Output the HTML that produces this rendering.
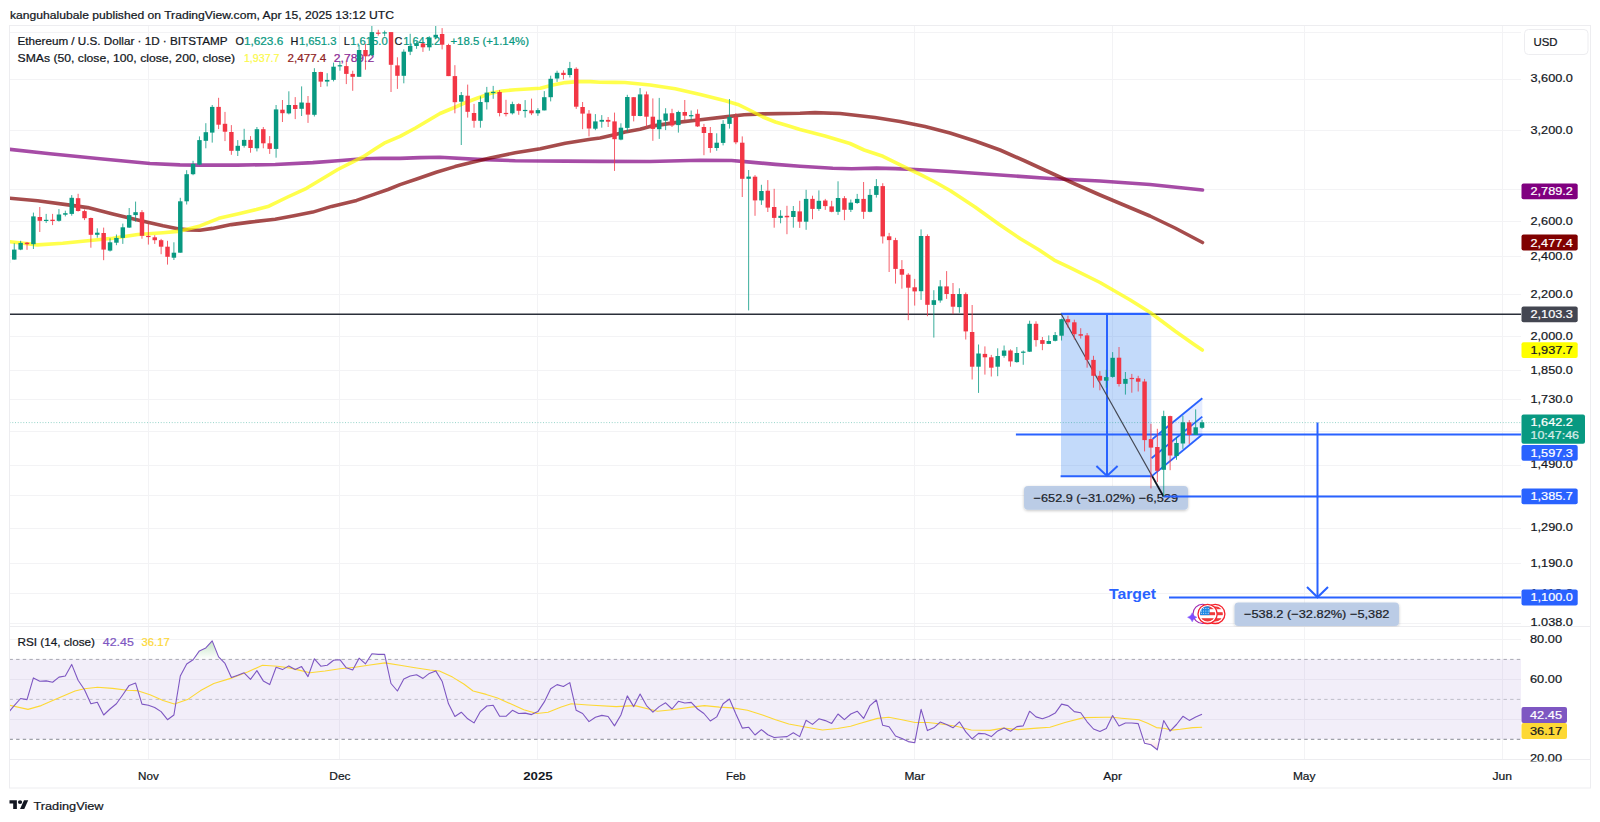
<!DOCTYPE html>
<html lang="en"><head><meta charset="utf-8"><title>ETHUSD chart</title>
<style>html,body{margin:0;padding:0;background:#fff;}body{width:1600px;height:822px;overflow:hidden;}svg{display:block;}</style></head>
<body>
<svg width="1600" height="822" viewBox="0 0 1600 822" font-family='"Liberation Sans", sans-serif'>
<defs>
<clipPath id="cm"><rect x="10.0" y="26.0" width="1511.0" height="600.5"/></clipPath>
<clipPath id="cr"><rect x="10.0" y="626.5" width="1511.0" height="133.0"/></clipPath>
<clipPath id="ca"><rect x="1521.0" y="26.0" width="69.5" height="600.0"/></clipPath>
<clipPath id="cb"><rect x="1521.0" y="627.0" width="69.5" height="134.5"/></clipPath>
<linearGradient id="gg" gradientUnits="userSpaceOnUse" x1="0" y1="636" x2="0" y2="659.3"><stop offset="0" stop-color="#4caf50" stop-opacity="0.42"/><stop offset="1" stop-color="#4caf50" stop-opacity="0"/></linearGradient>
<linearGradient id="gp" gradientUnits="userSpaceOnUse" x1="0" y1="739.1" x2="0" y2="760"><stop offset="0" stop-color="#f23645" stop-opacity="0"/><stop offset="1" stop-color="#f23645" stop-opacity="0.35"/></linearGradient>
<filter id="sh" x="-10%" y="-30%" width="120%" height="170%"><feGaussianBlur in="SourceAlpha" stdDeviation="1.5"/><feOffset dy="1"/><feComponentTransfer><feFuncA type="linear" slope="0.25"/></feComponentTransfer><feMerge><feMergeNode/><feMergeNode in="SourceGraphic"/></feMerge></filter>
</defs>
<rect width="1600" height="822" fill="#fff"/>
<text x="10" y="18.9" font-size="11.1" fill="#131722" stroke="#131722" stroke-width="0.22" textLength="384" lengthAdjust="spacingAndGlyphs">kanguhalubale published on TradingView.com, Apr 15, 2025 13:12 UTC</text>
<rect x="9.5" y="25.5" width="1581.0" height="762.5" fill="#fff" stroke="#ededf0" stroke-width="1"/>
<g stroke="#f3f3f5" stroke-width="1">
<line x1="148.5" y1="26.0" x2="148.5" y2="759.5"/>
<line x1="339.5" y1="26.0" x2="339.5" y2="759.5"/>
<line x1="537.5" y1="26.0" x2="537.5" y2="759.5"/>
<line x1="735.5" y1="26.0" x2="735.5" y2="759.5"/>
<line x1="914.5" y1="26.0" x2="914.5" y2="759.5"/>
<line x1="1112.5" y1="26.0" x2="1112.5" y2="759.5"/>
<line x1="1304.5" y1="26.0" x2="1304.5" y2="759.5"/>
<line x1="1502.5" y1="26.0" x2="1502.5" y2="759.5"/>
<line x1="10.0" y1="32.5" x2="1521.0" y2="32.5"/>
<line x1="10.0" y1="79.5" x2="1521.0" y2="79.5"/>
<line x1="10.0" y1="130.5" x2="1521.0" y2="130.5"/>
<line x1="10.0" y1="189.5" x2="1521.0" y2="189.5"/>
<line x1="10.0" y1="221.5" x2="1521.0" y2="221.5"/>
<line x1="10.0" y1="256.5" x2="1521.0" y2="256.5"/>
<line x1="10.0" y1="294.5" x2="1521.0" y2="294.5"/>
<line x1="10.0" y1="336.5" x2="1521.0" y2="336.5"/>
<line x1="10.0" y1="370.5" x2="1521.0" y2="370.5"/>
<line x1="10.0" y1="399.5" x2="1521.0" y2="399.5"/>
<line x1="10.0" y1="431.5" x2="1521.0" y2="431.5"/>
<line x1="10.0" y1="465.5" x2="1521.0" y2="465.5"/>
<line x1="10.0" y1="495.5" x2="1521.0" y2="495.5"/>
<line x1="10.0" y1="528.5" x2="1521.0" y2="528.5"/>
<line x1="10.0" y1="563.5" x2="1521.0" y2="563.5"/>
<line x1="10.0" y1="593.5" x2="1521.0" y2="593.5"/>
<line x1="10.0" y1="623.5" x2="1521.0" y2="623.5"/>
<line x1="10.0" y1="639.5" x2="1521.0" y2="639.5"/>
<line x1="10.0" y1="679.5" x2="1521.0" y2="679.5"/>
<line x1="10.0" y1="719.5" x2="1521.0" y2="719.5"/>
</g>
<line x1="9.5" y1="626.5" x2="1590.5" y2="626.5" stroke="#ededf0" stroke-width="1"/>
<line x1="9.5" y1="759.5" x2="1590.5" y2="759.5" stroke="#ededf0" stroke-width="1"/>
<g>
<text x="17.5" y="44.9" font-size="10.9" fill="#131722" stroke="#131722" stroke-width="0.22" textLength="210" lengthAdjust="spacingAndGlyphs">Ethereum / U.S. Dollar · 1D · BITSTAMP</text>
<text x="235.5" y="44.9" font-size="10.9" fill="#131722" stroke="#131722" stroke-width="0.22">O</text>
<text x="243.9" y="44.9" font-size="10.9" fill="#089981" stroke="#089981" stroke-width="0.22" textLength="39.4" lengthAdjust="spacingAndGlyphs">1,623.6</text>
<text x="290.5" y="44.9" font-size="10.9" fill="#131722" stroke="#131722" stroke-width="0.22">H</text>
<text x="298.9" y="44.9" font-size="10.9" fill="#089981" stroke="#089981" stroke-width="0.22" textLength="37.5" lengthAdjust="spacingAndGlyphs">1,651.3</text>
<text x="343.8" y="44.9" font-size="10.9" fill="#131722" stroke="#131722" stroke-width="0.22">L</text>
<text x="350.2" y="44.9" font-size="10.9" fill="#089981" stroke="#089981" stroke-width="0.22" textLength="37.5" lengthAdjust="spacingAndGlyphs">1,615.0</text>
<text x="394.6" y="44.9" font-size="10.9" fill="#131722" stroke="#131722" stroke-width="0.22">C</text>
<text x="403.2" y="44.9" font-size="10.9" fill="#089981" stroke="#089981" stroke-width="0.22" textLength="37" lengthAdjust="spacingAndGlyphs">1,641.2</text>
<text x="450.4" y="44.9" font-size="10.9" fill="#089981" stroke="#089981" stroke-width="0.22" textLength="78.6" lengthAdjust="spacingAndGlyphs">+18.5 (+1.14%)</text>
<text x="17.5" y="61.5" font-size="10.9" fill="#131722" stroke="#131722" stroke-width="0.22" textLength="217.5" lengthAdjust="spacingAndGlyphs">SMAs (50, close, 100, close, 200, close)</text>
<text x="243.9" y="61.5" font-size="10.9" fill="#fbf94a" stroke="#fbf94a" stroke-width="0.22" textLength="35.6" lengthAdjust="spacingAndGlyphs">1,937.7</text>
<text x="287.5" y="61.5" font-size="10.9" fill="#8f2323" stroke="#8f2323" stroke-width="0.22" textLength="38.8" lengthAdjust="spacingAndGlyphs">2,477.4</text>
<text x="333.8" y="61.5" font-size="10.9" fill="#8c2a96" stroke="#8c2a96" stroke-width="0.22" textLength="40.4" lengthAdjust="spacingAndGlyphs">2,789.2</text>
</g>
<g clip-path="url(#cm)">
<line x1="9.5" y1="314.3" x2="1521.0" y2="314.3" stroke="#2a2e39" stroke-width="1.6"/>
<rect x="1061" y="313.8" width="90.3" height="162.6" fill="#2f80ed" fill-opacity="0.29"/>
<g filter="url(#sh)"><rect x="1024" y="486" width="164" height="23.8" rx="4" fill="#b9cbe6" fill-opacity="0.95"/></g>
<text x="1033.6" y="502.2" font-size="11.6" fill="#1b1f2a" stroke="#1b1f2a" stroke-width="0.22" textLength="144.4" lengthAdjust="spacingAndGlyphs">−652.9 (−31.02%) −6,529</text>
<g filter="url(#sh)"><rect x="1234.5" y="602.6" width="164.5" height="23.4" rx="4" fill="#b9cbe6" fill-opacity="0.95"/></g>
<text x="1244" y="618.4" font-size="11.6" fill="#1b1f2a" stroke="#1b1f2a" stroke-width="0.22" textLength="145.4" lengthAdjust="spacingAndGlyphs">−538.2 (−32.82%) −5,382</text>
<g stroke="#2962ff" stroke-width="2" fill="none">
<line x1="1061" y1="313.8" x2="1151.3" y2="313.8" stroke-width="2.3"/>
<line x1="1060.6" y1="476.3" x2="1151.5" y2="476.3"/>
<line x1="1107" y1="313.8" x2="1107" y2="476"/>
<polyline points="1096.4,466 1107,476 1117.6,466"/>
<line x1="1015.9" y1="434.5" x2="1521.0" y2="434.5"/>
<line x1="1163.5" y1="496.5" x2="1521.0" y2="496.5"/>
<line x1="1169" y1="597.5" x2="1521.0" y2="597.5"/>
<line x1="1317.5" y1="422.5" x2="1317.5" y2="597"/>
<polyline points="1307,587 1317.5,597.3 1328,587"/>
</g>
<polygon points="1152.5,439 1202.3,398.2 1202.3,434.5 1151.5,476.4" fill="#2962ff" fill-opacity="0.12"/>
<g stroke="#2962ff" stroke-width="1.8">
<line x1="1152.5" y1="439" x2="1202.3" y2="398.2"/>
<line x1="1151.5" y1="476.4" x2="1202.3" y2="434.5"/>
<line x1="1151.5" y1="458.3" x2="1202.3" y2="416.6"/>
</g>
<line x1="1061" y1="313.8" x2="1152.2" y2="476.3" stroke="#434753" stroke-width="1.2"/>
<line x1="1152.2" y1="476.3" x2="1163.5" y2="496.5" stroke="#131722" stroke-width="1.8"/>
<text x="1109" y="599" font-size="15.5" fill="#2962ff" font-weight="bold" textLength="47" lengthAdjust="spacingAndGlyphs">Target</text>
<g>
<circle cx="1202.6" cy="613.9" r="9.6" fill="none" stroke="#9c27b0" stroke-width="1.1"/>
<circle cx="1215.3" cy="613.9" r="9.6" fill="#fff" stroke="#f5222d" stroke-width="1.3"/>
<clipPath id="fc1215"><circle cx="1215.3" cy="613.9" r="7.6"/></clipPath>
<g clip-path="url(#fc1215)">
<rect x="1207.3" y="605.9" width="16" height="16" fill="#fff"/>
<rect x="1207.3" y="606.20" width="16" height="3.0" fill="#ef3b3b"/>
<rect x="1207.3" y="612.20" width="16" height="3.0" fill="#ef3b3b"/>
<rect x="1207.3" y="618.20" width="16" height="4" fill="#ef3b3b"/>
<rect x="1207.3" y="605.9" width="6.5" height="9.2" fill="#1e88e5"/>
<circle cx="1209.0" cy="608.6" r="0.5" fill="#fff"/>
<circle cx="1211.3" cy="608.6" r="0.5" fill="#fff"/>
<circle cx="1213.6" cy="608.6" r="0.5" fill="#fff"/>
<circle cx="1215.9" cy="608.6" r="0.5" fill="#fff"/>
<circle cx="1209.0" cy="610.9" r="0.5" fill="#fff"/>
<circle cx="1211.3" cy="610.9" r="0.5" fill="#fff"/>
<circle cx="1213.6" cy="610.9" r="0.5" fill="#fff"/>
<circle cx="1215.9" cy="610.9" r="0.5" fill="#fff"/>
<circle cx="1209.0" cy="613.2" r="0.5" fill="#fff"/>
<circle cx="1211.3" cy="613.2" r="0.5" fill="#fff"/>
<circle cx="1213.6" cy="613.2" r="0.5" fill="#fff"/>
<circle cx="1215.9" cy="613.2" r="0.5" fill="#fff"/>
</g>
<circle cx="1207.6" cy="613.9" r="9.6" fill="#fff" stroke="#f5222d" stroke-width="1.3"/>
<clipPath id="fc1207"><circle cx="1207.6" cy="613.9" r="7.6"/></clipPath>
<g clip-path="url(#fc1207)">
<rect x="1199.6" y="605.9" width="16" height="16" fill="#fff"/>
<rect x="1199.6" y="606.20" width="16" height="3.0" fill="#ef3b3b"/>
<rect x="1199.6" y="612.20" width="16" height="3.0" fill="#ef3b3b"/>
<rect x="1199.6" y="618.20" width="16" height="4" fill="#ef3b3b"/>
<rect x="1199.6" y="605.9" width="10" height="9.2" fill="#1e88e5"/>
<circle cx="1201.3" cy="608.6" r="0.5" fill="#fff"/>
<circle cx="1203.6" cy="608.6" r="0.5" fill="#fff"/>
<circle cx="1205.9" cy="608.6" r="0.5" fill="#fff"/>
<circle cx="1208.2" cy="608.6" r="0.5" fill="#fff"/>
<circle cx="1201.3" cy="610.9" r="0.5" fill="#fff"/>
<circle cx="1203.6" cy="610.9" r="0.5" fill="#fff"/>
<circle cx="1205.9" cy="610.9" r="0.5" fill="#fff"/>
<circle cx="1208.2" cy="610.9" r="0.5" fill="#fff"/>
<circle cx="1201.3" cy="613.2" r="0.5" fill="#fff"/>
<circle cx="1203.6" cy="613.2" r="0.5" fill="#fff"/>
<circle cx="1205.9" cy="613.2" r="0.5" fill="#fff"/>
<circle cx="1208.2" cy="613.2" r="0.5" fill="#fff"/>
</g>
<path d="M1192.2 612.8 Q1193.2 616.3 1196.8 617.3 Q1193.2 618.3 1192.2 621.8 Q1191.2 618.3 1187.6 617.3 Q1191.2 616.3 1192.2 612.8Z" fill="#7c4dff" stroke="#7c4dff" stroke-width="0.5" stroke-linejoin="round"/>
</g>
<g fill="none" stroke-linecap="round" stroke-linejoin="round" stroke-width="3.6">
<polyline points="9.5,149.3 50.0,153.8 100.0,158.8 150.0,163.5 180.0,164.9 200.0,165.1 237.6,165.1 275.2,164.5 312.8,162.6 337.8,160.7 362.9,158.8 381.7,158.2 400.0,158.4 420.0,157.6 440.0,157.3 477.6,159.4 515.2,160.7 565.3,161.1 600.0,161.4 650.0,161.5 700.0,160.2 731.6,160.5 750.4,162.1 775.4,164.4 800.0,166.2 832.8,168.2 851.6,168.8 876.6,168.1 895.4,168.6 920.0,169.8 950.0,171.5 1000.0,175.0 1050.0,178.5 1100.0,181.0 1150.0,184.5 1202.5,190.0" stroke="#800080" stroke-opacity="0.7"/>
<polyline points="9.5,198.2 37.6,200.7 70.0,205.1 87.7,207.6 112.8,213.9 137.8,220.1 163.0,225.8 179.0,228.9 188.0,229.9 200.0,230.3 212.5,228.4 231.3,224.6 250.1,222.1 275.2,219.3 294.0,215.8 312.8,212.1 331.6,206.4 356.6,200.4 375.4,193.9 388.0,189.5 400.0,184.6 417.5,178.8 436.2,172.3 455.0,166.6 471.3,162.6 490.1,158.0 515.2,152.7 540.3,148.7 565.3,143.3 590.4,139.3 600.0,138.0 615.4,134.6 625.0,132.0 640.0,129.2 650.1,126.4 675.2,122.6 700.3,119.7 725.3,116.9 744.1,114.7 762.9,113.9 800.0,113.3 815.0,112.6 840.0,113.5 875.0,117.5 900.0,121.5 925.0,126.5 950.0,133.0 975.0,141.0 1000.0,150.0 1025.0,161.0 1050.0,172.5 1075.0,184.0 1100.0,195.0 1125.0,205.5 1150.0,216.0 1175.0,228.0 1202.5,242.5" stroke="#800000" stroke-opacity="0.7"/>
<polyline points="9.5,241.7 37.6,244.9 62.7,243.3 87.7,240.8 112.8,238.3 137.8,234.5 163.0,232.7 178.0,231.4 188.0,228.9 200.0,225.9 218.8,218.3 237.6,214.0 256.4,209.6 268.9,206.2 287.7,197.0 306.5,188.3 325.3,177.0 337.8,169.5 350.4,163.2 362.9,156.9 375.4,148.8 384.2,143.2 400.0,136.3 415.5,128.0 440.0,113.5 452.0,108.5 465.0,102.8 477.0,98.3 490.0,93.6 502.0,91.0 515.2,89.7 540.3,88.2 552.8,85.1 565.3,82.6 577.8,81.6 590.4,81.6 600.0,82.2 615.4,82.4 625.0,82.5 640.0,84.0 650.1,85.0 675.2,88.8 700.3,94.4 725.3,100.7 737.8,104.4 750.4,110.5 762.9,117.0 775.4,122.0 788.0,125.7 800.0,129.5 825.0,136.0 850.0,143.5 864.1,150.0 882.9,156.3 901.7,165.7 920.0,174.4 935.0,182.0 950.0,190.5 975.0,207.0 999.0,224.3 1020.4,238.8 1039.2,250.0 1054.2,260.1 1070.0,267.6 1100.0,282.5 1130.2,300.0 1150.2,312.5 1175.3,331.3 1194.1,344.5 1202.3,350.1" stroke="#ffff00" stroke-opacity="0.7"/>
</g>
<g fill="#089981" stroke="#089981" stroke-width="0"><path d="M7.86 259.0V263.5" stroke-width="0.8"/><rect x="5.64" y="259.6" width="4.45" height="3.4"/><path d="M14.25 243.3V259.6" stroke-width="0.8"/><rect x="12.03" y="249.6" width="4.45" height="10.0"/><path d="M20.64 240.8V250.2" stroke-width="0.8"/><rect x="18.41" y="242.9" width="4.45" height="6.7"/><path d="M33.41 212.6V249.0" stroke-width="0.8"/><rect x="31.18" y="216.4" width="4.45" height="27.8"/><path d="M46.18 213.9V222.9" stroke-width="0.8"/><rect x="43.95" y="219.8" width="4.45" height="1.2"/><path d="M58.95 209.1V221.6" stroke-width="0.8"/><rect x="56.73" y="214.5" width="4.45" height="6.3"/><path d="M65.34 210.7V216.4" stroke-width="0.8"/><rect x="63.11" y="213.2" width="4.45" height="1.5"/><path d="M71.72 195.1V215.7" stroke-width="0.8"/><rect x="69.50" y="197.8" width="4.45" height="16.1"/><path d="M97.27 228.3V237.7" stroke-width="0.8"/><rect x="95.04" y="232.7" width="4.45" height="2.1"/><path d="M110.04 238.3V251.5" stroke-width="0.8"/><rect x="107.82" y="242.3" width="4.45" height="8.3"/><path d="M116.43 234.5V245.2" stroke-width="0.8"/><rect x="114.20" y="237.9" width="4.45" height="4.8"/><path d="M122.81 223.6V243.9" stroke-width="0.8"/><rect x="120.59" y="227.3" width="4.45" height="10.6"/><path d="M129.20 208.0V227.9" stroke-width="0.8"/><rect x="126.97" y="215.1" width="4.45" height="12.5"/><path d="M135.58 201.6V221.6" stroke-width="0.8"/><rect x="133.36" y="212.2" width="4.45" height="2.9"/><path d="M173.90 242.3V260.0" stroke-width="0.8"/><rect x="171.68" y="252.7" width="4.45" height="5.0"/><path d="M180.29 197.8V252.7" stroke-width="0.8"/><rect x="178.06" y="201.3" width="4.45" height="51.4"/><path d="M186.67 170.2V204.5" stroke-width="0.8"/><rect x="184.45" y="174.2" width="4.45" height="27.1"/><path d="M193.06 160.8V175.2" stroke-width="0.8"/><rect x="190.83" y="163.9" width="4.45" height="10.3"/><path d="M199.44 136.4V165.2" stroke-width="0.8"/><rect x="197.22" y="140.1" width="4.45" height="24.5"/><path d="M205.83 123.2V148.3" stroke-width="0.8"/><rect x="203.61" y="132.2" width="4.45" height="8.6"/><path d="M212.22 105.0V142.6" stroke-width="0.8"/><rect x="209.99" y="106.9" width="4.45" height="25.7"/><path d="M237.76 140.1V156.0" stroke-width="0.8"/><rect x="235.53" y="145.8" width="4.45" height="5.0"/><path d="M244.15 128.8V147.6" stroke-width="0.8"/><rect x="241.92" y="139.9" width="4.45" height="5.9"/><path d="M256.92 127.0V151.4" stroke-width="0.8"/><rect x="254.69" y="129.2" width="4.45" height="19.1"/><path d="M276.08 105.0V157.7" stroke-width="0.8"/><rect x="273.85" y="109.4" width="4.45" height="39.5"/><path d="M288.85 91.3V114.4" stroke-width="0.8"/><rect x="286.62" y="105.0" width="4.45" height="8.4"/><path d="M301.62 86.4V116.0" stroke-width="0.8"/><rect x="299.39" y="102.5" width="4.45" height="6.3"/><path d="M314.39 68.2V116.5" stroke-width="0.8"/><rect x="312.17" y="72.0" width="4.45" height="42.8"/><path d="M327.16 73.2V86.4" stroke-width="0.8"/><rect x="324.94" y="79.9" width="4.45" height="1.7"/><path d="M333.55 62.6V81.4" stroke-width="0.8"/><rect x="331.32" y="66.7" width="4.45" height="13.2"/><path d="M339.94 61.3V70.7" stroke-width="0.8"/><rect x="337.71" y="65.2" width="4.45" height="1.2"/><path d="M359.09 45.0V76.8" stroke-width="0.8"/><rect x="356.87" y="50.0" width="4.45" height="26.8"/><path d="M371.87 26.0V56.3" stroke-width="0.8"/><rect x="369.64" y="32.1" width="4.45" height="23.0"/><path d="M384.64 30.6V36.3" stroke-width="0.8"/><rect x="382.41" y="32.3" width="4.45" height="1.2"/><path d="M403.80 49.4V83.3" stroke-width="0.8"/><rect x="401.57" y="51.7" width="4.45" height="24.1"/><path d="M410.18 33.8V55.1" stroke-width="0.8"/><rect x="407.96" y="46.0" width="4.45" height="5.7"/><path d="M416.57 41.5V48.8" stroke-width="0.8"/><rect x="414.34" y="43.2" width="4.45" height="2.8"/><path d="M429.34 36.3V50.7" stroke-width="0.8"/><rect x="427.12" y="37.5" width="4.45" height="9.8"/><path d="M435.73 26.0V38.8" stroke-width="0.8"/><rect x="433.50" y="34.8" width="4.45" height="2.7"/><path d="M461.27 92.0V145.0" stroke-width="0.8"/><rect x="459.04" y="95.1" width="4.45" height="6.6"/><path d="M480.43 96.3V127.7" stroke-width="0.8"/><rect x="478.20" y="102.0" width="4.45" height="18.8"/><path d="M486.81 86.9V109.5" stroke-width="0.8"/><rect x="484.59" y="92.6" width="4.45" height="9.6"/><path d="M493.20 85.9V98.8" stroke-width="0.8"/><rect x="490.97" y="91.9" width="4.45" height="1.2"/><path d="M512.36 101.7V114.5" stroke-width="0.8"/><rect x="510.13" y="104.1" width="4.45" height="9.2"/><path d="M525.13 100.1V117.6" stroke-width="0.8"/><rect x="522.90" y="109.9" width="4.45" height="1.2"/><path d="M537.90 108.2V115.8" stroke-width="0.8"/><rect x="535.68" y="110.1" width="4.45" height="3.2"/><path d="M544.29 91.1V110.4" stroke-width="0.8"/><rect x="542.06" y="97.2" width="4.45" height="13.2"/><path d="M550.67 75.7V101.4" stroke-width="0.8"/><rect x="548.45" y="78.8" width="4.45" height="18.4"/><path d="M557.06 70.7V81.9" stroke-width="0.8"/><rect x="554.84" y="72.8" width="4.45" height="5.7"/><path d="M569.83 61.9V77.5" stroke-width="0.8"/><rect x="567.61" y="68.1" width="4.45" height="6.9"/><path d="M595.38 114.1V130.2" stroke-width="0.8"/><rect x="593.15" y="121.4" width="4.45" height="7.3"/><path d="M601.76 115.1V127.7" stroke-width="0.8"/><rect x="599.54" y="119.9" width="4.45" height="1.8"/><path d="M620.92 123.3V140.3" stroke-width="0.8"/><rect x="618.69" y="127.7" width="4.45" height="11.9"/><path d="M627.31 94.8V131.7" stroke-width="0.8"/><rect x="625.08" y="97.0" width="4.45" height="30.9"/><path d="M640.08 88.1V116.3" stroke-width="0.8"/><rect x="637.85" y="94.4" width="4.45" height="21.6"/><path d="M659.24 97.9V138.9" stroke-width="0.8"/><rect x="657.01" y="119.8" width="4.45" height="9.4"/><path d="M665.62 108.2V130.1" stroke-width="0.8"/><rect x="663.40" y="113.5" width="4.45" height="7.2"/><path d="M678.39 110.7V132.6" stroke-width="0.8"/><rect x="676.17" y="112.0" width="4.45" height="13.1"/><path d="M691.17 110.5V120.1" stroke-width="0.8"/><rect x="688.94" y="115.1" width="4.45" height="1.2"/><path d="M716.71 133.3V150.8" stroke-width="0.8"/><rect x="714.49" y="142.7" width="4.45" height="5.3"/><path d="M723.10 120.1V145.4" stroke-width="0.8"/><rect x="720.87" y="123.9" width="4.45" height="19.0"/><path d="M729.48 99.0V128.6" stroke-width="0.8"/><rect x="727.26" y="117.0" width="4.45" height="6.9"/><path d="M748.64 170.0V310.4" stroke-width="0.8"/><rect x="746.41" y="176.6" width="4.45" height="2.2"/><path d="M761.41 184.8V204.9" stroke-width="0.8"/><rect x="759.19" y="191.0" width="4.45" height="9.4"/><path d="M780.57 210.2V223.3" stroke-width="0.8"/><rect x="778.35" y="215.8" width="4.45" height="2.1"/><path d="M793.34 206.0V227.7" stroke-width="0.8"/><rect x="791.12" y="211.0" width="4.45" height="6.0"/><path d="M806.11 189.8V229.8" stroke-width="0.8"/><rect x="803.89" y="198.9" width="4.45" height="22.8"/><path d="M818.89 190.4V210.8" stroke-width="0.8"/><rect x="816.66" y="200.8" width="4.45" height="8.1"/><path d="M838.04 181.3V214.9" stroke-width="0.8"/><rect x="835.82" y="198.0" width="4.45" height="13.8"/><path d="M850.82 199.5V212.0" stroke-width="0.8"/><rect x="848.59" y="202.6" width="4.45" height="7.2"/><path d="M857.20 193.9V203.9" stroke-width="0.8"/><rect x="854.98" y="198.9" width="4.45" height="4.1"/><path d="M869.97 189.1V212.3" stroke-width="0.8"/><rect x="867.75" y="194.9" width="4.45" height="16.9"/><path d="M876.36 179.1V197.6" stroke-width="0.8"/><rect x="874.13" y="186.1" width="4.45" height="8.8"/><path d="M921.06 229.4V299.9" stroke-width="0.8"/><rect x="918.84" y="236.0" width="4.45" height="55.2"/><path d="M933.83 290.2V337.6" stroke-width="0.8"/><rect x="931.61" y="300.2" width="4.45" height="4.7"/><path d="M940.22 280.1V302.7" stroke-width="0.8"/><rect x="938.00" y="286.4" width="4.45" height="14.1"/><path d="M959.38 288.3V312.8" stroke-width="0.8"/><rect x="957.15" y="294.0" width="4.45" height="13.1"/><path d="M978.54 344.5V392.9" stroke-width="0.8"/><rect x="976.31" y="353.5" width="4.45" height="13.2"/><path d="M997.69 348.3V376.2" stroke-width="0.8"/><rect x="995.47" y="356.0" width="4.45" height="10.7"/><path d="M1004.08 345.5V357.7" stroke-width="0.8"/><rect x="1001.86" y="350.5" width="4.45" height="5.3"/><path d="M1016.85 347.0V362.7" stroke-width="0.8"/><rect x="1014.63" y="353.0" width="4.45" height="9.1"/><path d="M1023.24 350.5V364.8" stroke-width="0.8"/><rect x="1021.01" y="351.6" width="4.45" height="1.2"/><path d="M1029.62 320.7V352.0" stroke-width="0.8"/><rect x="1027.40" y="323.8" width="4.45" height="27.9"/><path d="M1048.78 335.4V344.1" stroke-width="0.8"/><rect x="1046.56" y="341.0" width="4.45" height="2.9"/><path d="M1055.17 332.0V341.4" stroke-width="0.8"/><rect x="1052.94" y="335.1" width="4.45" height="5.7"/><path d="M1061.55 318.8V340.5" stroke-width="0.8"/><rect x="1059.33" y="319.2" width="4.45" height="16.5"/><path d="M1106.26 369.8V387.7" stroke-width="0.8"/><rect x="1104.03" y="377.1" width="4.45" height="3.6"/><path d="M1112.64 352.1V377.7" stroke-width="0.8"/><rect x="1110.42" y="357.8" width="4.45" height="19.1"/><path d="M1125.41 372.0V394.6" stroke-width="0.8"/><rect x="1123.19" y="378.9" width="4.45" height="4.9"/><path d="M1163.73 410.7V496.3" stroke-width="0.8"/><rect x="1161.51" y="416.1" width="4.45" height="53.7"/><path d="M1176.50 437.0V459.8" stroke-width="0.8"/><rect x="1174.28" y="443.0" width="4.45" height="13.0"/><path d="M1182.89 415.7V448.9" stroke-width="0.8"/><rect x="1180.66" y="422.3" width="4.45" height="21.2"/><path d="M1195.66 409.4V434.9" stroke-width="0.8"/><rect x="1193.44" y="427.3" width="4.45" height="7.6"/><path d="M1202.05 419.8V428.8" stroke-width="0.8"/><rect x="1199.82" y="422.3" width="4.45" height="5.5"/></g>
<g fill="#f23645" stroke="#f23645" stroke-width="0"><path d="M27.02 242.0V249.8" stroke-width="0.8"/><rect x="24.80" y="242.7" width="4.45" height="1.5"/><path d="M39.79 207.0V232.0" stroke-width="0.8"/><rect x="37.57" y="217.0" width="4.45" height="3.8"/><path d="M52.57 213.9V225.1" stroke-width="0.8"/><rect x="50.34" y="219.7" width="4.45" height="1.3"/><path d="M78.11 193.8V211.6" stroke-width="0.8"/><rect x="75.89" y="198.2" width="4.45" height="12.8"/><path d="M84.50 209.5V220.1" stroke-width="0.8"/><rect x="82.27" y="211.1" width="4.45" height="7.1"/><path d="M90.88 217.6V247.7" stroke-width="0.8"/><rect x="88.66" y="218.0" width="4.45" height="16.8"/><path d="M103.65 227.6V260.2" stroke-width="0.8"/><rect x="101.43" y="233.0" width="4.45" height="16.6"/><path d="M141.97 210.1V238.7" stroke-width="0.8"/><rect x="139.75" y="212.2" width="4.45" height="23.6"/><path d="M148.36 223.9V244.6" stroke-width="0.8"/><rect x="146.13" y="235.9" width="4.45" height="1.2"/><path d="M154.74 235.2V243.9" stroke-width="0.8"/><rect x="152.52" y="237.3" width="4.45" height="2.9"/><path d="M161.13 238.9V254.2" stroke-width="0.8"/><rect x="158.90" y="240.2" width="4.45" height="6.5"/><path d="M167.51 240.8V264.6" stroke-width="0.8"/><rect x="165.29" y="246.7" width="4.45" height="10.1"/><path d="M218.60 97.8V129.1" stroke-width="0.8"/><rect x="216.38" y="106.9" width="4.45" height="17.8"/><path d="M224.99 111.9V141.1" stroke-width="0.8"/><rect x="222.76" y="123.8" width="4.45" height="7.9"/><path d="M231.37 125.1V154.8" stroke-width="0.8"/><rect x="229.15" y="132.0" width="4.45" height="18.8"/><path d="M250.53 136.1V152.7" stroke-width="0.8"/><rect x="248.31" y="139.9" width="4.45" height="8.1"/><path d="M263.30 127.0V148.3" stroke-width="0.8"/><rect x="261.08" y="129.2" width="4.45" height="14.1"/><path d="M269.69 136.1V153.9" stroke-width="0.8"/><rect x="267.46" y="143.3" width="4.45" height="5.6"/><path d="M282.46 100.0V122.0" stroke-width="0.8"/><rect x="280.24" y="109.7" width="4.45" height="3.5"/><path d="M295.23 97.1V119.1" stroke-width="0.8"/><rect x="293.01" y="105.0" width="4.45" height="4.0"/><path d="M308.01 96.0V122.9" stroke-width="0.8"/><rect x="305.78" y="102.8" width="4.45" height="11.8"/><path d="M320.78 71.7V87.0" stroke-width="0.8"/><rect x="318.55" y="72.0" width="4.45" height="9.6"/><path d="M346.32 61.3V84.1" stroke-width="0.8"/><rect x="344.10" y="66.1" width="4.45" height="7.8"/><path d="M352.71 70.7V90.8" stroke-width="0.8"/><rect x="350.48" y="73.9" width="4.45" height="2.9"/><path d="M365.48 43.8V69.7" stroke-width="0.8"/><rect x="363.25" y="50.0" width="4.45" height="6.3"/><path d="M378.25 29.8V35.6" stroke-width="0.8"/><rect x="376.03" y="32.6" width="4.45" height="1.2"/><path d="M391.02 32.1V92.0" stroke-width="0.8"/><rect x="388.80" y="32.1" width="4.45" height="32.7"/><path d="M397.41 57.3V88.9" stroke-width="0.8"/><rect x="395.19" y="65.4" width="4.45" height="10.4"/><path d="M422.95 42.5V51.9" stroke-width="0.8"/><rect x="420.73" y="43.5" width="4.45" height="3.8"/><path d="M442.11 28.1V49.4" stroke-width="0.8"/><rect x="439.89" y="34.0" width="4.45" height="10.7"/><path d="M448.50 43.8V76.1" stroke-width="0.8"/><rect x="446.27" y="45.0" width="4.45" height="31.1"/><path d="M454.88 65.2V113.3" stroke-width="0.8"/><rect x="452.66" y="76.1" width="4.45" height="26.1"/><path d="M467.66 84.6V117.6" stroke-width="0.8"/><rect x="465.43" y="95.7" width="4.45" height="16.1"/><path d="M474.04 103.9V127.7" stroke-width="0.8"/><rect x="471.82" y="113.0" width="4.45" height="7.8"/><path d="M499.59 90.1V116.4" stroke-width="0.8"/><rect x="497.36" y="92.0" width="4.45" height="21.0"/><path d="M505.97 99.8V116.4" stroke-width="0.8"/><rect x="503.75" y="112.9" width="4.45" height="1.2"/><path d="M518.74 103.2V114.8" stroke-width="0.8"/><rect x="516.52" y="104.1" width="4.45" height="6.7"/><path d="M531.52 98.6V115.1" stroke-width="0.8"/><rect x="529.29" y="110.4" width="4.45" height="2.9"/><path d="M563.45 70.3V79.4" stroke-width="0.8"/><rect x="561.22" y="72.8" width="4.45" height="2.2"/><path d="M576.22 67.3V108.9" stroke-width="0.8"/><rect x="573.99" y="68.8" width="4.45" height="37.9"/><path d="M582.60 102.0V129.2" stroke-width="0.8"/><rect x="580.38" y="107.0" width="4.45" height="6.6"/><path d="M588.99 110.1V136.4" stroke-width="0.8"/><rect x="586.76" y="113.6" width="4.45" height="14.9"/><path d="M608.15 117.0V127.0" stroke-width="0.8"/><rect x="605.92" y="119.9" width="4.45" height="1.8"/><path d="M614.53 112.6V170.9" stroke-width="0.8"/><rect x="612.31" y="121.4" width="4.45" height="17.8"/><path d="M633.69 97.0V121.4" stroke-width="0.8"/><rect x="631.47" y="97.2" width="4.45" height="18.7"/><path d="M646.46 91.5V127.0" stroke-width="0.8"/><rect x="644.24" y="94.4" width="4.45" height="22.3"/><path d="M652.85 98.4V140.8" stroke-width="0.8"/><rect x="650.62" y="116.7" width="4.45" height="12.2"/><path d="M672.01 108.8V127.0" stroke-width="0.8"/><rect x="669.78" y="113.2" width="4.45" height="12.3"/><path d="M684.78 100.0V120.1" stroke-width="0.8"/><rect x="682.55" y="112.0" width="4.45" height="3.7"/><path d="M697.55 109.4V127.0" stroke-width="0.8"/><rect x="695.33" y="113.8" width="4.45" height="12.6"/><path d="M703.94 123.9V155.2" stroke-width="0.8"/><rect x="701.71" y="127.0" width="4.45" height="6.0"/><path d="M710.32 127.0V152.7" stroke-width="0.8"/><rect x="708.10" y="133.0" width="4.45" height="15.0"/><path d="M735.87 113.2V144.2" stroke-width="0.8"/><rect x="733.64" y="117.0" width="4.45" height="25.3"/><path d="M742.25 136.4V197.0" stroke-width="0.8"/><rect x="740.03" y="142.7" width="4.45" height="36.1"/><path d="M755.03 175.1V215.8" stroke-width="0.8"/><rect x="752.80" y="176.7" width="4.45" height="23.7"/><path d="M767.80 180.1V212.0" stroke-width="0.8"/><rect x="765.57" y="190.7" width="4.45" height="16.9"/><path d="M774.18 188.8V227.7" stroke-width="0.8"/><rect x="771.96" y="207.0" width="4.45" height="10.9"/><path d="M786.96 205.8V234.2" stroke-width="0.8"/><rect x="784.73" y="215.8" width="4.45" height="1.5"/><path d="M799.73 200.8V227.9" stroke-width="0.8"/><rect x="797.50" y="211.4" width="4.45" height="10.3"/><path d="M812.50 195.7V219.2" stroke-width="0.8"/><rect x="810.27" y="198.9" width="4.45" height="10.0"/><path d="M825.27 198.9V209.9" stroke-width="0.8"/><rect x="823.05" y="200.5" width="4.45" height="5.6"/><path d="M831.66 200.8V212.3" stroke-width="0.8"/><rect x="829.43" y="206.4" width="4.45" height="5.4"/><path d="M844.43 196.1V220.2" stroke-width="0.8"/><rect x="842.21" y="198.2" width="4.45" height="11.6"/><path d="M863.59 182.0V218.9" stroke-width="0.8"/><rect x="861.36" y="198.9" width="4.45" height="12.9"/><path d="M882.75 183.2V243.5" stroke-width="0.8"/><rect x="880.52" y="186.1" width="4.45" height="50.3"/><path d="M889.13 232.9V272.0" stroke-width="0.8"/><rect x="886.91" y="236.3" width="4.45" height="3.8"/><path d="M895.52 237.8V283.6" stroke-width="0.8"/><rect x="893.29" y="240.1" width="4.45" height="28.8"/><path d="M901.90 260.1V288.7" stroke-width="0.8"/><rect x="899.68" y="269.1" width="4.45" height="5.6"/><path d="M908.29 273.2V320.2" stroke-width="0.8"/><rect x="906.06" y="274.7" width="4.45" height="13.0"/><path d="M914.68 278.9V305.6" stroke-width="0.8"/><rect x="912.45" y="287.3" width="4.45" height="4.1"/><path d="M927.45 234.4V316.2" stroke-width="0.8"/><rect x="925.22" y="236.0" width="4.45" height="68.8"/><path d="M946.61 271.1V298.9" stroke-width="0.8"/><rect x="944.38" y="286.4" width="4.45" height="7.6"/><path d="M952.99 283.0V314.2" stroke-width="0.8"/><rect x="950.77" y="294.0" width="4.45" height="12.7"/><path d="M965.76 292.5V339.5" stroke-width="0.8"/><rect x="963.54" y="294.1" width="4.45" height="37.3"/><path d="M972.15 305.0V379.5" stroke-width="0.8"/><rect x="969.92" y="332.0" width="4.45" height="34.7"/><path d="M984.92 346.4V374.6" stroke-width="0.8"/><rect x="982.70" y="353.9" width="4.45" height="3.4"/><path d="M991.31 354.9V376.5" stroke-width="0.8"/><rect x="989.08" y="357.3" width="4.45" height="10.4"/><path d="M1010.47 349.3V366.7" stroke-width="0.8"/><rect x="1008.24" y="350.5" width="4.45" height="10.9"/><path d="M1036.01 321.3V346.6" stroke-width="0.8"/><rect x="1033.79" y="323.8" width="4.45" height="16.3"/><path d="M1042.40 337.0V350.2" stroke-width="0.8"/><rect x="1040.17" y="340.1" width="4.45" height="3.8"/><path d="M1067.94 315.7V327.6" stroke-width="0.8"/><rect x="1065.72" y="319.2" width="4.45" height="3.1"/><path d="M1074.33 319.7V339.5" stroke-width="0.8"/><rect x="1072.10" y="322.3" width="4.45" height="11.9"/><path d="M1080.71 328.2V338.6" stroke-width="0.8"/><rect x="1078.49" y="334.2" width="4.45" height="1.5"/><path d="M1087.10 333.0V367.7" stroke-width="0.8"/><rect x="1084.87" y="335.4" width="4.45" height="24.4"/><path d="M1093.48 355.8V387.7" stroke-width="0.8"/><rect x="1091.26" y="359.9" width="4.45" height="15.9"/><path d="M1099.87 371.1V390.3" stroke-width="0.8"/><rect x="1097.65" y="375.8" width="4.45" height="4.8"/><path d="M1119.03 347.0V386.5" stroke-width="0.8"/><rect x="1116.80" y="357.7" width="4.45" height="26.3"/><path d="M1131.80 373.9V392.7" stroke-width="0.8"/><rect x="1129.58" y="377.9" width="4.45" height="1.2"/><path d="M1138.19 375.8V391.5" stroke-width="0.8"/><rect x="1135.96" y="378.3" width="4.45" height="3.4"/><path d="M1144.57 378.9V451.4" stroke-width="0.8"/><rect x="1142.35" y="381.5" width="4.45" height="58.6"/><path d="M1150.96 423.8V488.4" stroke-width="0.8"/><rect x="1148.73" y="439.1" width="4.45" height="8.5"/><path d="M1157.34 428.8V482.1" stroke-width="0.8"/><rect x="1155.12" y="447.0" width="4.45" height="23.8"/><path d="M1170.12 415.7V470.2" stroke-width="0.8"/><rect x="1167.89" y="416.1" width="4.45" height="39.4"/><path d="M1189.27 420.1V443.9" stroke-width="0.8"/><rect x="1187.05" y="422.3" width="4.45" height="12.6"/></g>
<line x1="9.5" y1="422.6" x2="1521.0" y2="422.6" stroke="#089981" stroke-width="1" stroke-dasharray="1 1.75" stroke-opacity="0.42"/>
</g>
<g clip-path="url(#cr)">
<rect x="9.5" y="659.3" width="1511.5" height="79.8" fill="#7e57c2" fill-opacity="0.1"/>
<g stroke="#787b86" stroke-dasharray="3.4 3.24">
<line x1="9.5" y1="659.4" x2="1521.0" y2="659.4" stroke-width="1" stroke-opacity="0.62"/>
<line x1="9.5" y1="699.4" x2="1521.0" y2="699.4" stroke-width="1" stroke-opacity="0.42"/>
<line x1="9.5" y1="739.3" x2="1521.0" y2="739.3" stroke-width="1" stroke-opacity="0.88"/>
</g>
<polygon points="193.3,659.3 199.4,650.9 205.8,647.9 212.2,640.9 218.6,656.9 221.0,659.3" fill="url(#gg)"/>
<polygon points="314.2,659.3 314.4,658.8 314.9,659.3" fill="url(#gg)"/>
<polygon points="358.5,659.3 359.1,658.2 360.3,659.3" fill="url(#gg)"/>
<polygon points="368.3,659.3 371.9,653.7 378.3,654.4 384.6,654.4 385.7,659.3" fill="url(#gg)"/>
<polygon points="903.3,739.1 908.3,741.6 914.7,742.8 915.4,739.1" fill="url(#gp)"/>
<polygon points="1143.2,739.1 1144.6,743.3 1151.0,744.8 1157.3,749.8 1159.7,739.1" fill="url(#gp)"/>
<polyline points="9.5,705.2 28.0,709.4 41.2,705.6 56.2,699.0 75.0,691.0 84.4,688.8 97.5,687.2 112.5,688.4 127.5,690.2 136.9,690.6 150.0,694.8 163.1,700.4 174.4,704.1 187.5,699.6 200.6,690.6 213.8,683.5 230.6,678.4 247.5,671.9 262.5,665.3 277.5,666.2 290.6,668.1 300.0,670.4 310.0,672.8 325.0,671.0 340.0,668.7 355.0,667.2 370.0,665.0 385.0,662.9 400.0,665.3 415.0,667.8 430.0,670.0 439.4,671.0 452.5,677.1 463.8,684.0 473.1,691.0 486.2,694.4 497.5,698.1 510.6,703.8 523.8,709.8 536.9,713.5 548.1,712.2 561.2,707.1 571.2,703.8 588.1,705.0 616.2,706.6 635.0,705.6 657.5,711.2 672.5,709.8 691.2,707.1 704.4,705.6 719.4,707.1 732.5,707.9 747.5,710.3 762.5,715.0 775.6,719.7 788.8,724.0 803.8,726.8 822.5,730.0 837.5,728.5 850.6,726.2 858.8,723.8 877.5,718.4 888.8,717.2 901.9,719.7 915.0,722.5 928.1,722.5 941.2,724.0 956.2,726.2 971.2,730.0 990.0,730.4 1003.1,728.1 1018.1,729.6 1036.9,728.1 1050.0,727.2 1065.0,722.5 1083.8,717.6 1105.0,717.3 1112.6,717.2 1121.4,718.2 1138.9,719.8 1147.7,723.2 1156.4,727.6 1165.2,728.5 1171.5,730.1 1180.2,729.2 1192.8,727.6 1202.1,727.2" fill="none" stroke="#fdd835" stroke-width="1.1" stroke-linejoin="round"/>
<polyline points="9.5,711.2 14.2,705.6 20.6,698.5 27.0,699.6 33.4,677.9 39.8,681.2 46.2,680.9 52.6,682.2 59.0,677.1 65.3,676.0 71.7,664.4 78.1,680.3 84.5,689.7 90.9,703.8 97.3,702.2 103.7,715.0 110.0,709.0 116.4,703.8 122.8,694.8 129.2,685.4 135.6,683.1 142.0,704.1 148.4,705.2 154.7,707.5 161.1,711.6 167.5,719.7 173.9,715.0 180.3,676.0 186.7,664.0 193.1,659.7 199.4,650.9 205.8,647.9 212.2,640.9 218.6,656.9 225.0,663.4 231.4,677.5 237.8,675.2 244.1,672.8 250.5,679.4 256.9,670.6 263.3,680.9 269.7,684.6 276.1,667.2 282.5,669.6 288.8,665.9 295.2,669.6 301.6,666.6 308.0,676.6 314.4,658.8 320.8,666.2 327.2,665.3 333.6,660.2 339.9,659.7 346.3,667.8 352.7,670.0 359.1,658.2 365.5,663.8 371.9,653.7 378.3,654.4 384.6,654.4 391.0,683.5 397.4,691.0 403.8,679.0 410.2,676.0 416.6,674.7 423.0,678.4 429.3,673.4 435.7,670.9 442.1,681.2 448.5,703.8 454.9,716.5 461.3,712.2 467.7,718.8 474.0,722.9 480.4,711.6 486.8,706.0 493.2,705.2 499.6,716.3 506.0,716.3 512.4,710.3 518.7,713.5 525.1,713.1 531.5,714.6 537.9,711.6 544.3,701.9 550.7,688.8 557.1,684.6 563.4,686.5 569.8,682.6 576.2,710.3 582.6,713.5 589.0,721.6 595.4,717.2 601.8,715.4 608.1,716.5 614.5,725.9 620.9,715.0 627.3,695.9 633.7,706.6 640.1,694.0 646.5,705.6 652.9,712.2 659.2,706.6 665.6,702.8 672.0,709.0 678.4,701.3 684.8,703.0 691.2,702.4 697.6,709.0 703.9,713.5 710.3,721.0 716.7,716.9 723.1,703.8 729.5,699.0 735.9,714.0 742.3,728.1 748.6,727.2 755.0,735.0 761.4,729.6 767.8,734.7 774.2,737.5 780.6,737.0 787.0,736.6 793.3,732.8 799.7,736.6 806.1,720.2 812.5,724.4 818.9,718.8 825.3,720.6 831.7,723.4 838.0,714.0 844.4,719.7 850.8,714.0 857.2,711.2 863.6,718.4 870.0,705.6 876.4,700.0 882.7,725.3 889.1,726.8 895.5,736.0 901.9,738.4 908.3,741.6 914.7,742.8 921.1,709.4 927.4,730.6 933.8,727.8 940.2,722.1 946.6,724.4 953.0,727.8 959.4,721.8 965.8,731.9 972.1,738.8 978.5,733.4 984.9,733.8 991.3,736.6 997.7,730.9 1004.1,728.1 1010.5,731.3 1016.9,726.6 1023.2,725.9 1029.6,711.2 1036.0,716.9 1042.4,718.8 1048.8,716.5 1055.2,713.1 1061.6,704.1 1067.9,705.6 1074.3,711.6 1080.7,712.7 1087.1,721.8 1093.5,729.0 1099.9,731.5 1106.3,728.5 1112.6,715.5 1119.0,726.0 1125.4,723.0 1131.8,723.0 1138.2,723.6 1144.6,743.3 1151.0,744.8 1157.3,749.8 1163.7,720.5 1170.1,731.1 1176.5,724.5 1182.9,716.3 1189.3,720.4 1195.7,717.0 1202.0,714.2" fill="none" stroke="#7e57c2" stroke-width="1.1" stroke-linejoin="round"/>
</g>
<text x="17.5" y="646.3" font-size="10.9" fill="#131722" stroke="#131722" stroke-width="0.22" textLength="77.5" lengthAdjust="spacingAndGlyphs">RSI (14, close)</text>
<text x="102.8" y="646.3" font-size="10.9" fill="#7e57c2" stroke="#7e57c2" stroke-width="0.22" textLength="31" lengthAdjust="spacingAndGlyphs">42.45</text>
<text x="141.6" y="646.3" font-size="10.9" fill="#fdd835" stroke="#fdd835" stroke-width="0.22" textLength="28.2" lengthAdjust="spacingAndGlyphs">36.17</text>
<g clip-path="url(#ca)">
<text x="1530.5" y="82.2" font-size="11.5" fill="#131722" stroke="#131722" stroke-width="0.22" textLength="42.4" lengthAdjust="spacingAndGlyphs">3,600.0</text>
<text x="1530.5" y="133.8" font-size="11.5" fill="#131722" stroke="#131722" stroke-width="0.22" textLength="42.4" lengthAdjust="spacingAndGlyphs">3,200.0</text>
<text x="1530.5" y="192.2" font-size="11.5" fill="#131722" stroke="#131722" stroke-width="0.22" textLength="42.4" lengthAdjust="spacingAndGlyphs">2,800.0</text>
<text x="1530.5" y="224.6" font-size="11.5" fill="#131722" stroke="#131722" stroke-width="0.22" textLength="42.4" lengthAdjust="spacingAndGlyphs">2,600.0</text>
<text x="1530.5" y="259.7" font-size="11.5" fill="#131722" stroke="#131722" stroke-width="0.22" textLength="42.4" lengthAdjust="spacingAndGlyphs">2,400.0</text>
<text x="1530.5" y="297.7" font-size="11.5" fill="#131722" stroke="#131722" stroke-width="0.22" textLength="42.4" lengthAdjust="spacingAndGlyphs">2,200.0</text>
<text x="1530.5" y="339.5" font-size="11.5" fill="#131722" stroke="#131722" stroke-width="0.22" textLength="42.4" lengthAdjust="spacingAndGlyphs">2,000.0</text>
<text x="1530.5" y="373.6" font-size="11.5" fill="#131722" stroke="#131722" stroke-width="0.22" textLength="42.4" lengthAdjust="spacingAndGlyphs">1,850.0</text>
<text x="1530.5" y="402.9" font-size="11.5" fill="#131722" stroke="#131722" stroke-width="0.22" textLength="42.4" lengthAdjust="spacingAndGlyphs">1,730.0</text>
<text x="1530.5" y="434.4" font-size="11.5" fill="#131722" stroke="#131722" stroke-width="0.22" textLength="42.4" lengthAdjust="spacingAndGlyphs">1,610.0</text>
<text x="1530.5" y="468.3" font-size="11.5" fill="#131722" stroke="#131722" stroke-width="0.22" textLength="42.4" lengthAdjust="spacingAndGlyphs">1,490.0</text>
<text x="1530.5" y="498.7" font-size="11.5" fill="#131722" stroke="#131722" stroke-width="0.22" textLength="42.4" lengthAdjust="spacingAndGlyphs">1,390.0</text>
<text x="1530.5" y="531.3" font-size="11.5" fill="#131722" stroke="#131722" stroke-width="0.22" textLength="42.4" lengthAdjust="spacingAndGlyphs">1,290.0</text>
<text x="1530.5" y="566.6" font-size="11.5" fill="#131722" stroke="#131722" stroke-width="0.22" textLength="42.4" lengthAdjust="spacingAndGlyphs">1,190.0</text>
<text x="1530.5" y="597.1" font-size="11.5" fill="#131722" stroke="#131722" stroke-width="0.22" textLength="42.4" lengthAdjust="spacingAndGlyphs">1,110.0</text>
<text x="1530.5" y="626.4" font-size="11.5" fill="#131722" stroke="#131722" stroke-width="0.22" textLength="42.4" lengthAdjust="spacingAndGlyphs">1,038.0</text>
<rect x="1521.5" y="183.4" width="56.2" height="15.8" rx="2" fill="#800080"/>
<text x="1530.5" y="195.3" font-size="11.5" fill="#fff" stroke="#fff" stroke-width="0.22" textLength="42.4" lengthAdjust="spacingAndGlyphs">2,789.2</text>
<rect x="1521.5" y="234.6" width="56.2" height="15.8" rx="2" fill="#800000"/>
<text x="1530.5" y="246.5" font-size="11.5" fill="#fff" stroke="#fff" stroke-width="0.22" textLength="42.4" lengthAdjust="spacingAndGlyphs">2,477.4</text>
<rect x="1521.5" y="306.5" width="56.2" height="15.8" rx="2" fill="#434651"/>
<text x="1530.5" y="318.3" font-size="11.5" fill="#fff" stroke="#fff" stroke-width="0.22" textLength="42.4" lengthAdjust="spacingAndGlyphs">2,103.3</text>
<rect x="1521.5" y="342.2" width="56.2" height="15.8" rx="2" fill="#ffff00"/>
<text x="1530.5" y="354.0" font-size="11.5" fill="#131722" stroke="#131722" stroke-width="0.22" textLength="42.4" lengthAdjust="spacingAndGlyphs">1,937.7</text>
<rect x="1521.5" y="414.5" width="63.5" height="29.2" rx="2" fill="#089981"/>
<text x="1530.5" y="426.3" font-size="11.5" fill="#fff" stroke="#fff" stroke-width="0.22" textLength="42.4" lengthAdjust="spacingAndGlyphs">1,642.2</text>
<text x="1530.5" y="439.0" font-size="11.5" fill="#fff" stroke="#fff" stroke-width="0.22" textLength="48.5" lengthAdjust="spacingAndGlyphs" fill-opacity="0.75">10:47:46</text>
<rect x="1521.5" y="445" width="56.2" height="15.7" rx="2" fill="#2962ff"/>
<text x="1530.5" y="456.7" font-size="11.5" fill="#fff" stroke="#fff" stroke-width="0.22" textLength="42.4" lengthAdjust="spacingAndGlyphs">1,597.3</text>
<rect x="1521.5" y="488.5" width="56.2" height="15.8" rx="2" fill="#2962ff"/>
<text x="1530.5" y="500.3" font-size="11.5" fill="#fff" stroke="#fff" stroke-width="0.22" textLength="42.4" lengthAdjust="spacingAndGlyphs">1,385.7</text>
<rect x="1521.5" y="589.6" width="56.2" height="15.8" rx="2" fill="#2962ff"/>
<text x="1530.5" y="601.4" font-size="11.5" fill="#fff" stroke="#fff" stroke-width="0.22" textLength="42.4" lengthAdjust="spacingAndGlyphs">1,100.0</text>
</g>
<rect x="1524.5" y="29.5" width="63.5" height="25" rx="4" fill="#fff" stroke="#ededf0"/>
<text x="1533.5" y="45.9" font-size="11.5" fill="#131722" stroke="#131722" stroke-width="0.22" textLength="24" lengthAdjust="spacingAndGlyphs">USD</text>
<g clip-path="url(#cb)">
<text x="1530" y="642.6" font-size="11.5" fill="#131722" stroke="#131722" stroke-width="0.22" textLength="32" lengthAdjust="spacingAndGlyphs">80.00</text>
<text x="1530" y="682.5" font-size="11.5" fill="#131722" stroke="#131722" stroke-width="0.22" textLength="32" lengthAdjust="spacingAndGlyphs">60.00</text>
<text x="1530" y="722.4000000000001" font-size="11.5" fill="#131722" stroke="#131722" stroke-width="0.22" textLength="32" lengthAdjust="spacingAndGlyphs">40.00</text>
<text x="1530" y="762.4000000000001" font-size="11.5" fill="#131722" stroke="#131722" stroke-width="0.22" textLength="32" lengthAdjust="spacingAndGlyphs">20.00</text>
<rect x="1521.5" y="707" width="45.5" height="16" rx="2" fill="#7e57c2"/>
<text x="1530" y="719.0" font-size="11.5" fill="#fff" stroke="#fff" stroke-width="0.22" textLength="32" lengthAdjust="spacingAndGlyphs">42.45</text>
<rect x="1521.5" y="723" width="45.5" height="16" rx="2" fill="#fdd835"/>
<text x="1530" y="735.0" font-size="11.5" fill="#131722" stroke="#131722" stroke-width="0.22" textLength="32" lengthAdjust="spacingAndGlyphs">36.17</text>
</g>
<text x="148.4" y="779.9" font-size="11" fill="#131722" stroke="#131722" stroke-width="0.22" text-anchor="middle" textLength="20.7" lengthAdjust="spacingAndGlyphs">Nov</text>
<text x="339.9" y="779.9" font-size="11" fill="#131722" stroke="#131722" stroke-width="0.22" text-anchor="middle" textLength="21.2" lengthAdjust="spacingAndGlyphs">Dec</text>
<text x="537.9" y="779.9" font-size="11" fill="#131722" text-anchor="middle" font-weight="bold" textLength="29.5" lengthAdjust="spacingAndGlyphs">2025</text>
<text x="735.9" y="779.9" font-size="11" fill="#131722" stroke="#131722" stroke-width="0.22" text-anchor="middle" textLength="19.6" lengthAdjust="spacingAndGlyphs">Feb</text>
<text x="914.7" y="779.9" font-size="11" fill="#131722" stroke="#131722" stroke-width="0.22" text-anchor="middle" textLength="20.5" lengthAdjust="spacingAndGlyphs">Mar</text>
<text x="1112.6" y="779.9" font-size="11" fill="#131722" stroke="#131722" stroke-width="0.22" text-anchor="middle" textLength="18.6" lengthAdjust="spacingAndGlyphs">Apr</text>
<text x="1304.2" y="779.9" font-size="11" fill="#131722" stroke="#131722" stroke-width="0.22" text-anchor="middle" textLength="22.5" lengthAdjust="spacingAndGlyphs">May</text>
<text x="1502.2" y="779.9" font-size="11" fill="#131722" stroke="#131722" stroke-width="0.22" text-anchor="middle" textLength="19.5" lengthAdjust="spacingAndGlyphs">Jun</text>
<g fill="#131722" transform="translate(9.5 798.2) scale(0.527 0.49)">
<path d="M14 22H7V11H0V4h14v18zM28 22h-8l7.5-18h8L28 22z"/>
<circle cx="20" cy="8" r="4"/>
</g>
<text x="33.4" y="809.6" font-size="11.8" fill="#131722" stroke="#131722" stroke-width="0.22" textLength="70.2" lengthAdjust="spacingAndGlyphs">TradingView</text>
</svg>
</body></html>
